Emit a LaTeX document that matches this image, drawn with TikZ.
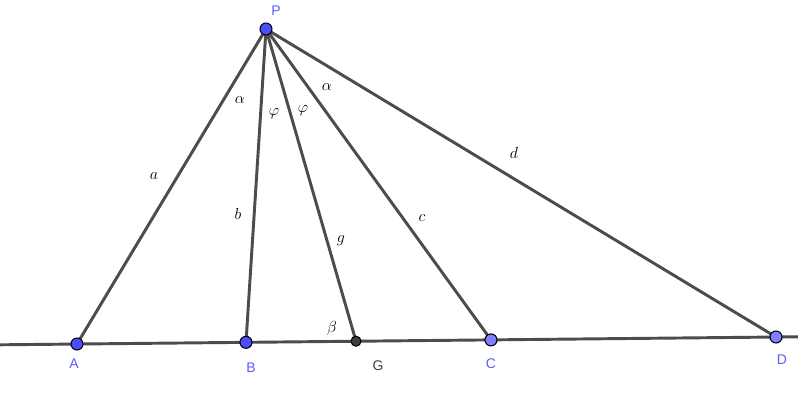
\documentclass[tikz,border=0pt]{standalone}
\usepackage{fontspec}
\setsansfont{Liberation Sans}
\begin{document}
\begin{tikzpicture}[x=0.75pt,y=-0.75pt,
  seg/.style={draw=black!70,line width=2.2pt},
  ptA/.style={circle,draw=black,line width=0.8pt,fill=ptblue,inner sep=0pt,minimum size=9pt},
  ptC/.style={circle,draw=black,line width=0.8pt,fill=ptlight,inner sep=0pt,minimum size=9pt},
  ptG/.style={circle,draw=black,line width=0.8pt,fill=black!75,inner sep=0pt,minimum size=7.5pt},
  plab/.style={font=\sffamily\fontsize{10.5}{12}\selectfont,text=lblblue},
  glab/.style={font=\sffamily\fontsize{10.5}{12}\selectfont,text=black!75},
  mlab/.style={font=\fontsize{13}{15}\selectfont,text=black}]
\definecolor{ptblue}{HTML}{4D4DFF}
\definecolor{ptlight}{HTML}{7F7FFF}
\definecolor{lblblue}{HTML}{5C5CFF}
\useasboundingbox (0,0) rectangle (798,400);
\coordinate (L) at (0,344.8);
\coordinate (R) at (798,336.8);
\coordinate (Pc) at (266,29);
\coordinate (Ac) at (77,344);
\coordinate (Bc) at (246,342.3);
\coordinate (Gc) at (356,341.2);
\coordinate (Cc) at (491,339.9);
\coordinate (Dc) at (776,337);
\draw[seg] (L) -- (R);
\draw[seg] (Pc) -- (Ac);
\draw[seg] (Pc) -- (Bc);
\draw[seg] (Pc) -- (Gc);
\draw[seg] (Pc) -- (Cc);
\draw[seg] (Pc) -- (Dc);
\node[ptA] (P) at (Pc) {};
\node[ptA] (A) at (Ac) {};
\node[ptA] (B) at (Bc) {};
\node[ptG] (G) at (Gc) {};
\node[ptC] (C) at (Cc) {};
\node[ptC] (D) at (Dc) {};
\node[plab] (lP) at (276,11) {P};
\node[plab] (lA) at (74,364) {A};
\node[plab] (lB) at (251,368) {B};
\node[glab] (lG) at (378,366) {G};
\node[plab] (lC) at (491,364) {C};
\node[plab] (lD) at (782,360) {D};
\node[mlab] (sa) at (154,176) {$a$};
\node[mlab] (sb) at (238,214) {$b$};
\node[mlab] (sg) at (341,241) {$g$};
\node[mlab] (sc) at (422,218) {$c$};
\node[mlab] (sd) at (514,153) {$d$};
\node[mlab] (al1) at (240,100) {$\alpha$};
\node[mlab] (ph1) at (274,114) {$\varphi$};
\node[mlab] (ph2) at (303,111) {$\varphi$};
\node[mlab] (al2) at (327,87) {$\alpha$};
\node[mlab] (be) at (332,328) {$\beta$};
\end{tikzpicture}
\end{document}
